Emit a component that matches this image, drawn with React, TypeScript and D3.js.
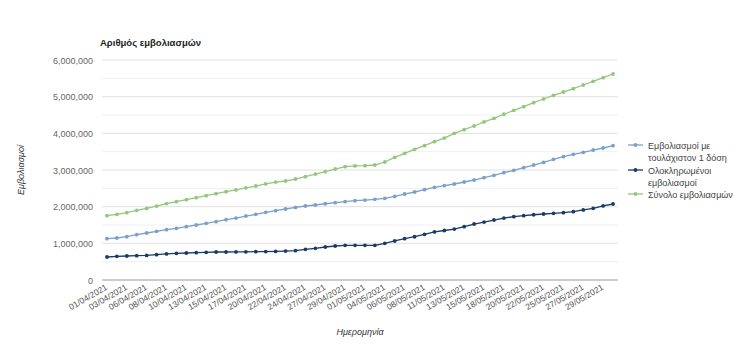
import React from "react";
import * as d3 from "d3";

// dates (Sundays missing in the source data)
const dates = [
  "01/04/2021", "02/04/2021", "03/04/2021", "05/04/2021", "06/04/2021", "07/04/2021",
  "08/04/2021", "09/04/2021", "10/04/2021", "12/04/2021", "13/04/2021", "14/04/2021",
  "15/04/2021", "16/04/2021", "17/04/2021", "19/04/2021", "20/04/2021", "21/04/2021",
  "22/04/2021", "23/04/2021", "24/04/2021", "26/04/2021", "27/04/2021", "28/04/2021",
  "29/04/2021", "30/04/2021", "01/05/2021", "03/05/2021", "04/05/2021", "05/05/2021",
  "06/05/2021", "07/05/2021", "08/05/2021", "10/05/2021", "11/05/2021", "12/05/2021",
  "13/05/2021", "14/05/2021", "15/05/2021", "17/05/2021", "18/05/2021", "19/05/2021",
  "20/05/2021", "21/05/2021", "22/05/2021", "24/05/2021", "25/05/2021", "26/05/2021",
  "27/05/2021", "28/05/2021", "29/05/2021", "31/05/2021",
];

// millions
const firstDose = [
  1.127, 1.145, 1.18, 1.236, 1.282, 1.327, 1.373, 1.409, 1.455, 1.5, 1.545, 1.59,
  1.645, 1.69, 1.745, 1.79, 1.845, 1.89, 1.936, 1.98, 2.018, 2.045, 2.08, 2.11,
  2.136, 2.164, 2.18, 2.2, 2.227, 2.28, 2.345, 2.4, 2.464, 2.527, 2.575, 2.618,
  2.673, 2.727, 2.79, 2.855, 2.927, 2.99, 3.064, 3.136, 3.209, 3.29, 3.364, 3.427,
  3.482, 3.545, 3.6, 3.664,
];
const fullyVaccinated = [
  0.627, 0.645, 0.655, 0.663, 0.67, 0.69, 0.71, 0.727, 0.736, 0.745, 0.755, 0.764,
  0.764, 0.766, 0.768, 0.773, 0.775, 0.78, 0.79, 0.8, 0.836, 0.864, 0.9, 0.927,
  0.945, 0.945, 0.945, 0.945, 1.0, 1.064, 1.127, 1.18, 1.245, 1.31, 1.35, 1.39,
  1.455, 1.527, 1.58, 1.636, 1.69, 1.727, 1.755, 1.78, 1.8, 1.818, 1.836, 1.864,
  1.91, 1.955, 2.02, 2.073,
];
const totalDoses = [
  1.754, 1.79, 1.835, 1.9, 1.952, 2.017, 2.083, 2.136, 2.19, 2.245, 2.3, 2.354,
  2.41, 2.456, 2.513, 2.563, 2.62, 2.67, 2.7, 2.754, 2.818, 2.89, 2.955, 3.027,
  3.09, 3.11, 3.118, 3.136, 3.218, 3.345, 3.455, 3.564, 3.664, 3.773, 3.87, 4.0,
  4.1, 4.2, 4.31, 4.41, 4.52, 4.627, 4.727, 4.836, 4.936, 5.036, 5.127, 5.218,
  5.318, 5.418, 5.518, 5.618,
];

const yTicks = [0, 1000000, 2000000, 3000000, 4000000, 5000000, 6000000];
const seriesNames = [["Εμβολιασμοί με", "τουλάχιστον 1 δόση"], ["Ολοκληρωμένοι", "εμβολιασμοί"], ["Σύνολο εμβολιασμών"]];
const colors = ["#79a1c9", "#1b3a66", "#93c77f"];

const W = 734, H = 364;
const left = 102, right = 618, top = 60, bottom = 280;
const font = "'Liberation Sans', Arial, sans-serif";

export default function App() {
  const x = d3.scaleBand().domain(dates).range([left, right]);
  const cx = (d: string) => (x(d) as number) + x.bandwidth() / 2;
  const y = d3.scaleLinear().domain([0, 6000000]).range([bottom, top]);
  const fmt = d3.format(",");
  const series = [firstDose, fullyVaccinated, totalDoses];
  const line = d3.line<number>().x((_, i) => cx(dates[i])).y((v) => y(v * 1e6));
  const minor = d3.range(500000, 6000000, 1000000);
  const legendY = [145, 170, 194];

  return (
    <svg width={W} height={H} style={{ position: "absolute", left: 0, top: 0, fontFamily: font }}>
      <rect width={W} height={H} fill="#fff" />
      <text x={100} y={46} fontSize={9.5} fontWeight="bold" fill="#222">Αριθμός εμβολιασμών</text>
      {minor.map((t) => (
        <line key={"m" + t} x1={left} x2={right} y1={y(t)} y2={y(t)} stroke="#f0f0f0" />
      ))}
      {yTicks.map((t) => (
        <g key={t}>
          {t > 0 && <line x1={left} x2={right} y1={y(t)} y2={y(t)} stroke="#e0e0e0" />}
          <text x={93} y={y(t) + 3.5} fontSize={9} textAnchor="end" fill="#666">{fmt(t)}</text>
        </g>
      ))}
      <line x1={left} x2={right} y1={bottom} y2={bottom} stroke="#999" />
      {dates.map((d, i) => i % 2 === 0 && (
        <text key={d} transform={`translate(${cx(d) + 1},${bottom + 9}) rotate(-30)`} fontSize={8.5} textAnchor="end" fill="#555">{d}</text>
      ))}
      {series.map((s, k) => (
        <g key={k}>
          <path d={line(s) || ""} fill="none" stroke={colors[k]} strokeWidth={1.3} />
          {s.map((v, i) => (
            <circle key={i} cx={cx(dates[i])} cy={y(v * 1e6)} r={1.9} fill={colors[k]} />
          ))}
        </g>
      ))}
      <text transform={`translate(24,170) rotate(-90)`} fontSize={9} fontStyle="italic" textAnchor="middle" fill="#333">Εμβολιασμοί</text>
      <text x={(left + right) / 2} y={335} fontSize={9} fontStyle="italic" textAnchor="middle" fill="#333">Ημερομηνία</text>
      {seriesNames.map((lines, k) => (
        <g key={k}>
          <line x1={628} x2={643} y1={legendY[k]} y2={legendY[k]} stroke={colors[k]} strokeWidth={1.3} />
          <circle cx={635.5} cy={legendY[k]} r={1.9} fill={colors[k]} />
          {lines.map((t, j) => (
            <text key={j} x={648} y={legendY[k] + 3.5 + j * 12} fontSize={9} fill="#444">{t}</text>
          ))}
        </g>
      ))}
    </svg>
  );
}
